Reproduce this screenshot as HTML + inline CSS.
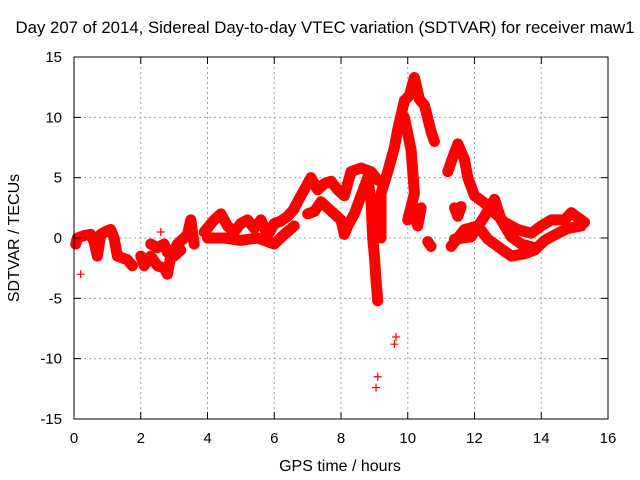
<!DOCTYPE html>
<html><head><meta charset="utf-8"><style>
body{margin:0;background:#fff}
svg{display:block;font-family:"Liberation Sans",sans-serif}
</style></head><body>
<svg id="chart" width="640" height="480" viewBox="0 0 640 480">
<text x="325" y="33" font-size="16.8" text-anchor="middle">Day 207 of 2014, Sidereal Day-to-day VTEC variation (SDTVAR) for receiver maw1</text>
<text transform="translate(19,238) rotate(-90)" font-size="16" text-anchor="middle">SDTVAR / TECUs</text>
<text x="340" y="471" font-size="16" text-anchor="middle">GPS time / hours</text>
<g id="grid"></g><g id="marks"></g>
<rect x="74" y="57" width="534" height="362" fill="none" stroke="#000" stroke-width="1"/>
<g id="ticks"></g>
</svg>
<script>
const xTicks=[0,2,4,6,8,10,12,14,16];
const yTicks=[-15,-10,-5,0,5,10,15];
const trackA=[[0.05,-0.5],[0.1,0],[0.3,0.2],[0.5,0.3],[0.6,-0.3],[0.7,-1.5],[0.8,0.3],[1.0,0.6],[1.1,0.7],[1.2,0],[1.3,-1.5],[1.4,-1.6],[1.6,-1.8],[1.75,-2.3]];
const trackIso=[[0.2,-3],[2.6,0.5],[9.05,-12.4],[9.1,-11.5],[9.6,-8.8],[9.65,-8.2]];
const trackB=[[2.0,-1.5],[2.1,-2.3],[2.3,-1.5],[2.5,-2.3],[2.7,-2.5],[2.8,-3],[2.9,-1.5],[3.0,-1],[3.1,-0.5],[3.3,0],[3.4,0.3],[3.5,1.5],[3.6,-0.5]];
const trackB2=[[2.3,-0.5],[2.5,-0.8],[2.7,-0.5],[2.8,-1.2],[3.0,-1.5],[3.2,-1.0]];
const trackC=[[3.9,0.5],[4.2,1.5],[4.4,2.0],[4.6,1],[4.8,0.5],[5.0,1.2],[5.2,1.5],[5.4,0.8],[5.6,1.5],[5.8,0.2],[6.0,1.2],[6.2,1.4],[6.4,1.8],[6.6,2.4]];
const trackC2=[[4.0,0],[4.5,0],[5.0,-0.2],[5.5,0],[6.0,-0.5],[6.3,0.3],[6.6,1.0]];
const trackD=[[6.6,2.5],[6.9,4.0],[7.1,5.0],[7.3,4.0],[7.5,4.5],[7.7,4.7],[7.9,4.0],[8.1,3.5],[8.3,5.5],[8.6,5.8],[8.9,5.5],[9.1,4.8],[9.3,4.6]];
const trackE=[[7.0,2.0],[7.2,2.2],[7.4,3.0],[7.6,2.5],[7.8,2.0],[8.0,1.5],[8.1,0.3],[8.2,1.0],[8.4,2.0],[8.6,3.5],[8.8,5],[8.9,3],[8.95,0],[9.0,-1.5],[9.05,-3.5],[9.1,-5.2]];
const trackF=[[9.2,0],[9.2,3.7],[9.4,5.5],[9.6,7.5],[9.7,9],[9.9,11.4],[10.05,11.8],[10.2,13.3],[10.35,11.5],[10.5,11],[10.7,8.8],[10.8,8.0]];
const trackG=[[9.9,10],[10.1,7.3],[10.2,3.7],[10.0,1.5],[10.15,2.2],[10.3,1.0],[10.4,2.5]];
const trackH=[[10.6,-0.3],[10.7,-0.7]];
const trackI=[[11.2,5.5],[11.3,6.3],[11.5,7.8],[11.7,6.5],[11.8,5],[12.0,3.5],[12.3,2.9],[12.6,2.1],[12.9,1.3],[13.3,0.7],[13.7,0.4],[14.0,1.0],[14.3,1.5],[14.7,1.5],[14.9,2.1],[15.3,1.3]];
const trackJ=[[11.3,-0.7],[11.7,0.7],[12.1,1.0],[12.4,-0.1],[12.7,-0.7],[13.1,-1.5],[13.5,-1.3],[13.8,-1.0],[14.1,-0.2],[14.5,0.4],[14.8,0.8],[15.2,1.0]];
const trackK=[[11.4,-0.1],[11.9,0.1],[12.3,1.8],[12.6,3.2],[12.8,1.5],[13.1,0.1],[13.4,-0.5],[13.8,-0.8]];
const trackL=[[11.4,2.5],[11.5,1.8],[11.6,2.6]];
const tracks=[trackA,trackB,trackB2,trackC,trackC2,trackD,trackE,trackF,trackG,trackH,trackI,trackJ,trackK,trackL];
const X=t=>74+t*(534/16);
const Y=v=>238-v*(362/30);
const ns="http://www.w3.org/2000/svg";
const grid=document.getElementById('grid'),ticks=document.getElementById('ticks'),marks=document.getElementById('marks');
function mk(tag,attrs,parent){const e=document.createElementNS(ns,tag);for(const k in attrs)e.setAttribute(k,attrs[k]);parent.appendChild(e);return e;}
xTicks.forEach(t=>{
  if(t>0&&t<16){const g=mk('line',{x1:X(t),x2:X(t),y1:57,y2:419,stroke:'#a0a0a0','stroke-dasharray':'2,3'},grid);
  
  }
  mk('line',{x1:X(t),x2:X(t),y1:419,y2:412,stroke:'#000'},ticks);
  mk('line',{x1:X(t),x2:X(t),y1:57,y2:64,stroke:'#000'},ticks);
  const l=mk('text',{x:X(t),y:443,'font-size':15,'text-anchor':'middle'},ticks);l.textContent=t;
  
  
});
yTicks.forEach(v=>{
  if(v>-15&&v<15){const g=mk('line',{x1:74,x2:608,y1:Y(v),y2:Y(v),stroke:'#a0a0a0','stroke-dasharray':'2,3'},grid);
  
  }
  mk('line',{x1:74,x2:81,y1:Y(v),y2:Y(v),stroke:'#000'},ticks);
  mk('line',{x1:601,x2:608,y1:Y(v),y2:Y(v),stroke:'#000'},ticks);
  const l=mk('text',{x:62,y:Y(v)+5,'font-size':15,'text-anchor':'end'},ticks);l.textContent=v;
  
  
});
tracks.forEach(tr=>{
  const p=mk('polyline',{points:tr.map(d=>X(d[0])+','+Y(d[1])).join(' '),fill:'none',stroke:'#f00','stroke-width':11,'stroke-linejoin':'round','stroke-linecap':'round'},marks);
  
  
});
tracks.concat([trackIso]).forEach(tr=>tr.forEach(d=>{
  const x=X(d[0]),y=Y(d[1]);
  const m=mk('path',{d:`M${x-4},${y}H${x+4}M${x},${y-4}V${y+4}`,stroke:'#f00','stroke-width':1.2},marks);
  
  
}));
</script>
</body></html>
